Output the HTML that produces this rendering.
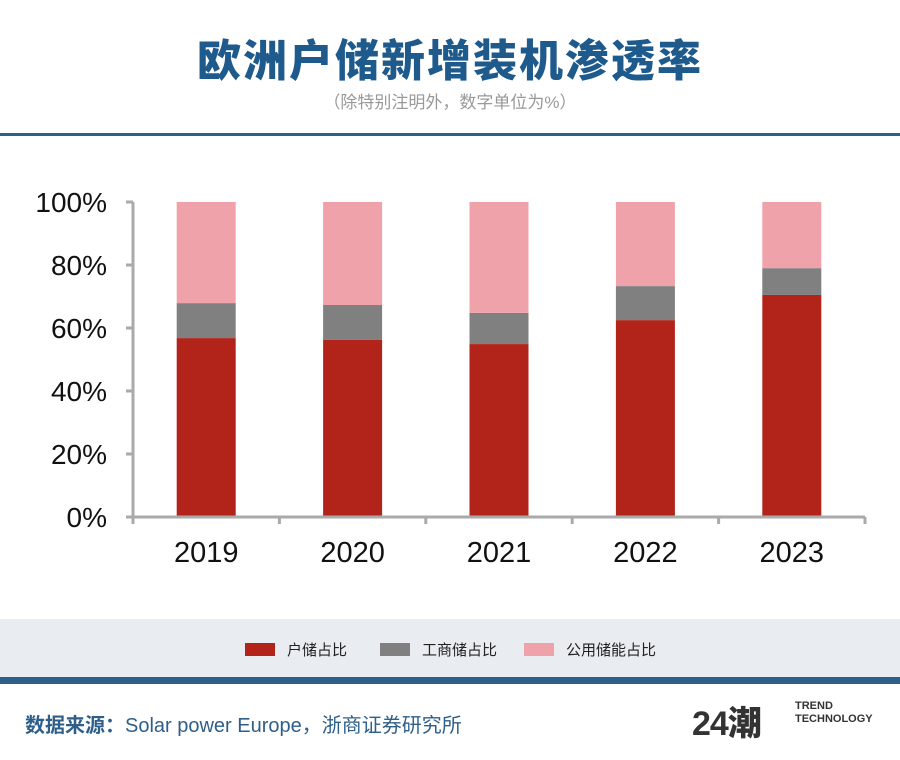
<!DOCTYPE html>
<html><head><meta charset="utf-8">
<style>
body{margin:0;width:900px;height:760px;background:#fff;overflow:hidden;font-family:"Liberation Sans","Noto Sans CJK SC",sans-serif;position:relative}
.abs{position:absolute}
</style></head><body>
<div class="abs" style="left:0;top:25px;width:900px;text-align:center;font-size:44px;font-weight:900;color:#1f5a8c;letter-spacing:2px;font-family:'Noto Sans CJK SC',sans-serif">欧洲户储新增装机渗透率</div>
<div class="abs" style="left:0;top:88px;width:900px;text-align:center;font-size:17px;color:#999">（除特别注明外，数字单位为%）</div>
<div class="abs" style="left:0;top:133px;width:900px;height:3px;background:#2e5f8a"></div>
<svg class="abs" style="left:0;top:0" width="900" height="760" id="chart"></svg>
<div class="abs" style="left:0;top:619px;width:900px;height:58px;background:#e9ecf0"></div>
<div class="abs" style="left:0;top:677px;width:900px;height:7px;background:#2e5f8a"></div>
<div class="abs" style="left:0;top:639px;width:900px;font-size:15px;color:#222">
 <span class="abs" style="left:245px;white-space:nowrap"><span style="display:inline-block;width:30px;height:13px;background:#b22419;vertical-align:-1px;margin-right:12px"></span>户储占比</span>
 <span class="abs" style="left:380px;white-space:nowrap"><span style="display:inline-block;width:30px;height:13px;background:#808080;vertical-align:-1px;margin-right:12px"></span>工商储占比</span>
 <span class="abs" style="left:524px;white-space:nowrap"><span style="display:inline-block;width:30px;height:13px;background:#f0a2aa;vertical-align:-1px;margin-right:12px"></span>公用储能占比</span>
</div>
<div class="abs" style="left:25px;top:709px;font-size:20px;color:#2e5f8a;white-space:nowrap"><b>数据来源：</b>Solar power Europe，浙商证券研究所</div>
<div class="abs" style="left:692px;top:696px;font-size:34px;font-weight:900;color:#333;letter-spacing:-1px">24潮</div>
<div class="abs" style="left:795px;top:700px;font-size:11px;font-weight:bold;color:#333;line-height:13px">TREND<br>TECHNOLOGY</div>
<script>
const years=['2019','2020','2021','2022','2023'];
const household=[56.8,56.2,54.9,62.5,70.5];
const commercial=[11.1,11.1,9.9,10.8,8.5];
const utility=[32.1,32.7,35.2,26.7,21.0];
const yTicks=[0,20,40,60,80,100];
const svg=document.getElementById('chart');
const NS='http://www.w3.org/2000/svg';
const x0=133,x1=865,y0=517,y1=202;
const band=(x1-x0)/years.length, bw=59;
const y=v=>y0-(v/100)*(y0-y1);
function mk(t,a){const e=document.createElementNS(NS,t);for(const k in a)e.setAttribute(k,a[k]);svg.appendChild(e);return e;}
const series=[[household,'#b22419','household'],[commercial,'#808080','commercial'],[utility,'#f0a2aa','utility']];
years.forEach((yr,i)=>{
 const cx=x0+band*(i+0.5);let acc=0;
 series.forEach(([arr,c,n])=>{
  const r=mk('rect',{x:cx-bw/2,y:y(acc+arr[i]),width:bw,height:y(acc)-y(acc+arr[i]),fill:c});
  
  
  acc+=arr[i];
 });
 const t=mk('text',{x:cx,y:562,'text-anchor':'middle','font-size':29,fill:'#111','font-family':'Liberation Sans'});
 t.textContent=yr;
 
 
});
const ax=mk('path',{d:`M${x0},${y1} V${y0} H${x1}`,stroke:'#aaa','stroke-width':3,fill:'none'});


yTicks.forEach(v=>{
 mk('line',{x1:x0-7,x2:x0,y1:y(v),y2:y(v),stroke:'#aaa','stroke-width':3});
 const t=mk('text',{x:107,y:y(v)+10,'text-anchor':'end','font-size':28,fill:'#111','font-family':'Liberation Sans'});
 t.textContent=v+'%';
 
 
});
for(let i=0;i<=years.length;i++){const xx=x0+band*i;mk('line',{x1:xx,x2:xx,y1:y0,y2:y0+7,stroke:'#aaa','stroke-width':3});}
</script>
</body></html>
